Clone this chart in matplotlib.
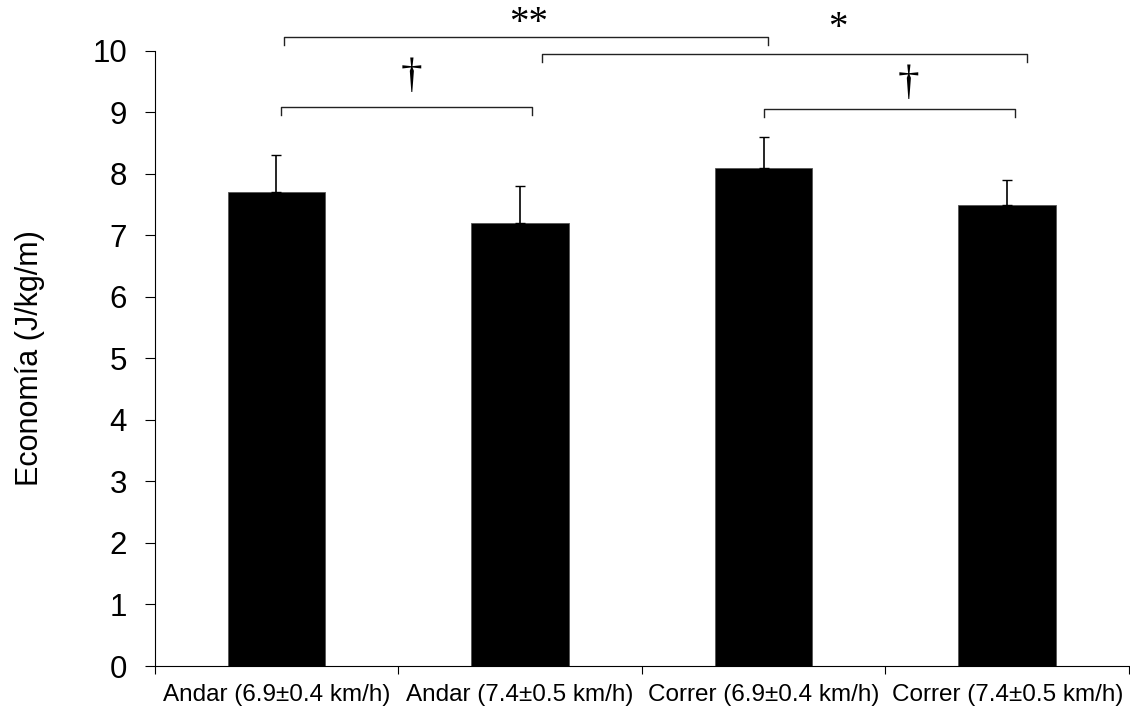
import numpy as np
import matplotlib
matplotlib.use("Agg")
import matplotlib.pyplot as plt

plt.rcParams['font.family'] = ['Liberation Sans', 'DejaVu Sans']

# datos
categorias = ["Andar (6.9±0.4 km/h)", "Andar (7.4±0.5 km/h)",
              "Correr (6.9±0.4 km/h)", "Correr (7.4±0.5 km/h)"]
medias = [7.7, 7.2, 8.1, 7.5]
errores = [0.6, 0.6, 0.5, 0.4]

# comparaciones: (x0, x1, altura, simbolo)
comparaciones = [
    (0.02, 1.05, 9.08, "†"),
    (2.0, 3.03, 9.06, "†"),
    (0.03, 2.02, 10.22, "**"),
    (1.09, 3.08, 9.95, "*"),
]

fig = plt.figure(figsize=(11.3, 7.13), dpi=100)
ax = fig.add_axes([0.1369, 0.0659, 0.8622, 0.863])

x = np.arange(len(categorias))
ax.bar(x, medias, width=0.40, color="black", edgecolor="#555555", linewidth=0.6,
       zorder=2)
ax.errorbar(x, medias, yerr=[np.zeros(len(errores)), errores], fmt="none",
            ecolor="black", elinewidth=1.2, capsize=3.5, capthick=1.0, zorder=3)

ax.set_xlim(-0.5, 3.5)
ax.set_ylim(0, 10)
ax.set_yticks(range(0, 11))
ax.tick_params(axis="y", labelsize=22.5, length=7, width=0.8, pad=13,
               direction="out")

# marcas en los limites, etiquetas en el centro
ax.set_xticks(np.arange(-0.5, 4.0, 1.0))
ax.set_xticklabels([])
ax.set_xticks(x, minor=True)
ax.set_xticklabels(categorias, minor=True, fontsize=17.5)
ax.tick_params(axis="x", which="major", length=5.5, width=0.8, direction="out")
ax.tick_params(axis="x", which="minor", length=0, pad=13)

for s in ["top", "right"]:
    ax.spines[s].set_visible(False)
for s in ["left", "bottom"]:
    ax.spines[s].set_linewidth(0.8)

ax.set_ylabel("Economía (J/kg/m)", fontsize=22, labelpad=34)

# corchetes de significacion
caida = 0.13
for x0, x1, h, sim in comparaciones:
    ax.plot([x0, x0, x1, x1], [h - caida, h, h, h - caida], color="#222222",
            lw=1.0, clip_on=False, zorder=4)

ax.text(0.554, 9.58, "†", ha="center", va="center", fontsize=31,
        family="Liberation Serif")
ax.text(2.593, 9.47, "†", ha="center", va="center", fontsize=31,
        family="Liberation Serif")
ax.text(1.035, 10.45, "**", ha="center", va="center", fontsize=28,
        family="Liberation Serif")
ax.text(2.306, 10.36, "*", ha="center", va="center", fontsize=28,
        family="Liberation Serif")

fig.savefig("out.png", dpi=100)
